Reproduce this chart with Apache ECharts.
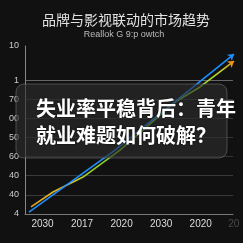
<!DOCTYPE html>
<html><head><meta charset="utf-8">
<script src="https://cdn.jsdelivr.net/npm/echarts@6/dist/echarts.min.js"></script>
<style>html,body{margin:0;padding:0;background:#111;}#c{width:243px;height:243px;}</style>
</head><body><div id="c"></div>
<script>
var titleText = '品牌与影视联动的市场趋势';
var subtitleText = 'Reallok G 9:p owtch';
var overlayLine1 = '失业率平稳背后：青年';
var overlayLine2 = '就业难题如何破解？';
var xCategories = ['2030', '2017', '2020', '2030', '2020', '20'];
var yTickLabels = ['4', '40', '40', '60', '50', '00', '70', '1', '', '10'];
var blueSeries = [[1, 0.10], [22.5, 3.34], [43.25, 6.84], [52.25, 8.36]];
var orangeSeries = [[1.5, 0.37], [7, 1.15], [9.5, 1.41], [14.5, 1.93], [23.75, 3.34], [37.5, 5.85], [43.75, 6.64], [52.25, 7.99]];

function withArrow(arr, rot, color) {
  return arr.map(function (p, i) {
    if (i === arr.length - 1) {
      return { value: p, symbol: 'arrow', symbolSize: 6, symbolRotate: rot, itemStyle: { color: color } };
    }
    return { value: p };
  });
}

var chart = echarts.init(document.getElementById('c'), null, { renderer: 'canvas' });
var gridColors = ['#555', '#3a3a3a', '#3a3a3a', '#363636', '#363636', '#363636', '#363636', '#666', 'rgba(0,0,0,0)', 'rgba(0,0,0,0)'];
chart.setOption({
  backgroundColor: '#111',
  animation: false,
  grid: [
    { left: 25, right: 10, top: 46, bottom: 29, outerBoundsMode: 'none', containLabel: false },
    { left: 42.5, right: 2.75, top: 46, bottom: 29, outerBoundsMode: 'none', containLabel: false }
  ],
  xAxis: [
    { type: 'value', gridIndex: 0, min: 0, max: 52,
      axisLine: { show: true, lineStyle: { color: '#777', width: 1 } },
      axisTick: { show: false }, axisLabel: { show: false }, splitLine: { show: false } },
    { type: 'category', gridIndex: 1, boundaryGap: false, data: xCategories,
      axisLine: { show: false }, axisTick: { show: false }, splitLine: { show: false },
      axisLabel: { color: '#ddd', fontSize: 10, fontFamily: 'Liberation Sans', margin: 5, interval: 0, hideOverlap: false,
        formatter: function (v, i) { return i === xCategories.length - 1 ? '{d|' + v + '}' : v; },
        rich: { d: { color: '#4a4a4a', fontSize: 10, fontFamily: 'Liberation Sans', padding: [0, 13, 0, 0] } } } }
  ],
  yAxis: [
    { type: 'value', gridIndex: 0, min: 0, max: 8.78, interval: 1,
      axisLine: { show: true, lineStyle: { color: '#888', width: 1 } },
      axisTick: { show: false },
      axisLabel: { color: '#ccc', fontSize: 9, fontFamily: 'Liberation Sans', margin: 6, showMaxLabel: true,
        formatter: function (v, i) { return yTickLabels[i] !== undefined ? yTickLabels[i] : ''; } },
      splitLine: { show: true, showMaxLine: false, lineStyle: { color: gridColors, width: 1 } } },
    { type: 'value', gridIndex: 1, min: 0, max: 8.78, show: false }
  ],
  series: [
    { type: 'line', xAxisIndex: 0, yAxisIndex: 0, clip: false, symbol: 'none', showSymbol: true,
      data: withArrow(orangeSeries, -53, '#f29418'),
      lineStyle: { width: 1.6, color: new echarts.graphic.LinearGradient(0, 0, 1, 0, [
        { offset: 0, color: '#e8a21e' }, { offset: 0.12, color: '#e2b21e' },
        { offset: 0.22, color: '#d8c420' }, { offset: 0.28, color: '#9ed02a' },
        { offset: 0.4, color: '#7ed321' }, { offset: 0.7, color: '#82cc2c' },
        { offset: 0.82, color: '#92d82a' }, { offset: 0.92, color: '#c2d82c' },
        { offset: 1, color: '#f29418' }]) } },
    { type: 'line', xAxisIndex: 0, yAxisIndex: 0, clip: false, symbol: 'none', showSymbol: true,
      data: withArrow(blueSeries, -51, '#1e8fff'),
      lineStyle: { width: 1.6, color: '#1e8fff' } }
  ],
  graphic: [
    { type: 'text', x: 126, y: 20, z: 10, style: { text: titleText, fill: '#e2e2e2', fontSize: 14,
      fontFamily: 'Noto Sans CJK SC', align: 'center', verticalAlign: 'middle' } },
    { type: 'text', x: 124, y: 35, z: 10, style: { text: subtitleText, fill: '#bbb', fontSize: 9,
      fontFamily: 'Liberation Sans', align: 'center', verticalAlign: 'middle' } },
    { type: 'rect', z: 20, shape: { x: 16, y: 84, width: 211, height: 74, r: 8 },
      style: { fill: 'rgba(45,45,45,0.62)', stroke: 'rgba(140,140,140,0.45)', lineWidth: 1 } },
    { type: 'text', z: 21, x: 36, y: 108, style: { text: overlayLine1, fill: '#fff', fontSize: 20, fontWeight: 'bold',
      fontFamily: 'Noto Sans CJK SC', align: 'left', verticalAlign: 'middle',
      textShadowColor: 'rgba(0,0,0,0.7)', textShadowBlur: 2 } },
    { type: 'text', z: 21, x: 36, y: 135, style: { text: overlayLine2, fill: '#fff', fontSize: 20, fontWeight: 'bold',
      fontFamily: 'Noto Sans CJK SC', align: 'left', verticalAlign: 'middle',
      textShadowColor: 'rgba(0,0,0,0.7)', textShadowBlur: 2 } }
  ]
});
</script></body></html>
